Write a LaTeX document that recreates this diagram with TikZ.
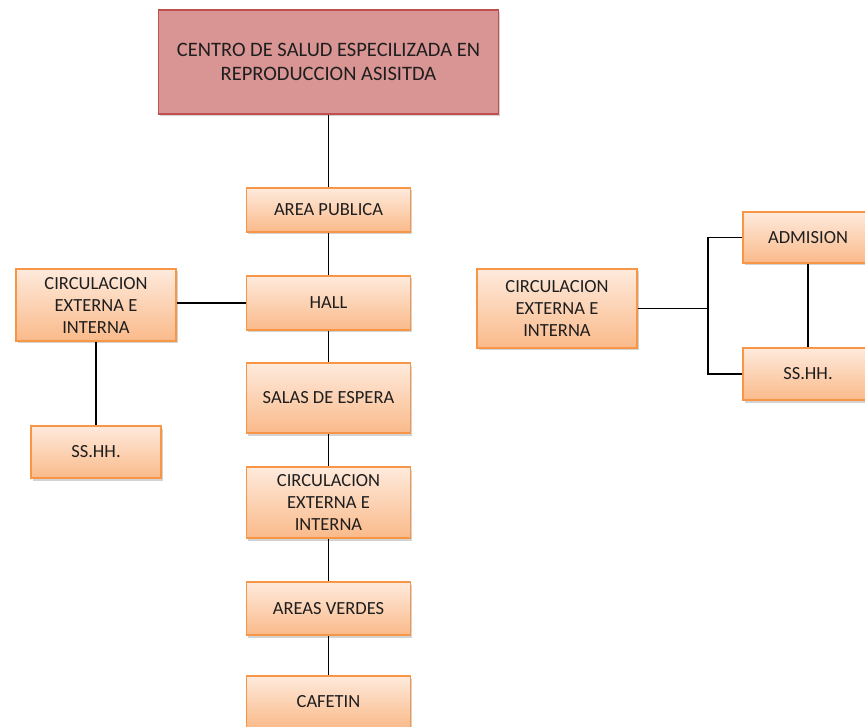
\documentclass[tikz,border=0pt]{standalone}
\usepackage{fontspec}
\setmainfont{Carlito}
\usetikzlibrary{shadows}
\definecolor{orLine}{RGB}{247,150,70}
\definecolor{orTop}{RGB}{254,234,220}
\definecolor{orBot}{RGB}{250,186,138}
\definecolor{rdFill}{RGB}{217,149,148}
\definecolor{rdLine}{RGB}{192,80,77}
\definecolor{txt}{RGB}{30,30,30}
\tikzset{
  obox/.style={draw=orLine, line width=1.6pt, top color=orTop, bottom color=orBot,
    align=center, inner sep=2pt, text=txt,
    font=\fontsize{18.5}{22}\selectfont,
    drop shadow={shadow xshift=1.5pt, shadow yshift=-2.5pt, opacity=0.35}},
  rbox/.style={draw=rdLine, line width=1.6pt, fill=rdFill,
    align=center, inner sep=2pt, text=txt,
    font=\fontsize{20.5}{23.5}\selectfont,
    drop shadow={shadow xshift=1.5pt, shadow yshift=-2.5pt, opacity=0.35}},
  link/.style={draw=black, line width=1.7pt}
}
\begin{document}
\begin{tikzpicture}[x=1pt,y=-1pt]
\useasboundingbox (0,0) rectangle (865,727);
\clip (0,0) rectangle (865,727);
\node[rbox, minimum width=340pt, minimum height=104pt] (top) at (328.5,62)
  {CENTRO DE SALUD ESPECILIZADA EN\\REPRODUCCION ASISITDA};
\node[obox, minimum width=164pt, minimum height=44pt] (area) at (328.5,210) {AREA PUBLICA};
\node[obox, minimum width=164pt, minimum height=54pt] (hall) at (328.5,303) {HALL};
\node[obox, minimum width=164pt, minimum height=70pt] (salas) at (328.5,398) {SALAS DE ESPERA};
\node[obox, minimum width=164pt, minimum height=71pt] (circM) at (328.5,502.5) {CIRCULACION\\EXTERNA E\\INTERNA};
\node[obox, minimum width=164pt, minimum height=53pt] (verdes) at (328.5,608.5) {AREAS VERDES};
\node[obox, minimum width=164pt, minimum height=52pt] (cafetin) at (328.5,702) {CAFETIN};
\node[obox, minimum width=160pt, minimum height=72pt] (circL) at (96,305) {CIRCULACION\\EXTERNA E\\INTERNA};
\node[obox, minimum width=130pt, minimum height=52pt] (sshL) at (96,452) {SS.HH.};
\node[obox, minimum width=160pt, minimum height=79pt] (circR) at (557,308.5) {CIRCULACION\\EXTERNA E\\INTERNA};
\node[obox, minimum width=130pt, minimum height=51pt] (adm) at (808,237.5) {ADMISION};
\node[obox, minimum width=130pt, minimum height=52pt] (sshR) at (808,374) {SS.HH.};
\coordinate (j) at (708,308.5);
\draw[link] (top) -- (area);
\draw[link] (area) -- (hall);
\draw[link] (hall) -- (salas);
\draw[link] (salas) -- (circM);
\draw[link] (circM) -- (verdes);
\draw[link] (verdes) -- (cafetin);
\draw[link] (circL.east |- hall.west) -- (hall.west);
\draw[link] (circL) -- (sshL);
\draw[link] (circR.east) -- (j);
\draw[link] (adm.west) -| (j) |- (sshR.west);
\draw[link] (adm) -- (sshR);
\end{tikzpicture}
\end{document}
